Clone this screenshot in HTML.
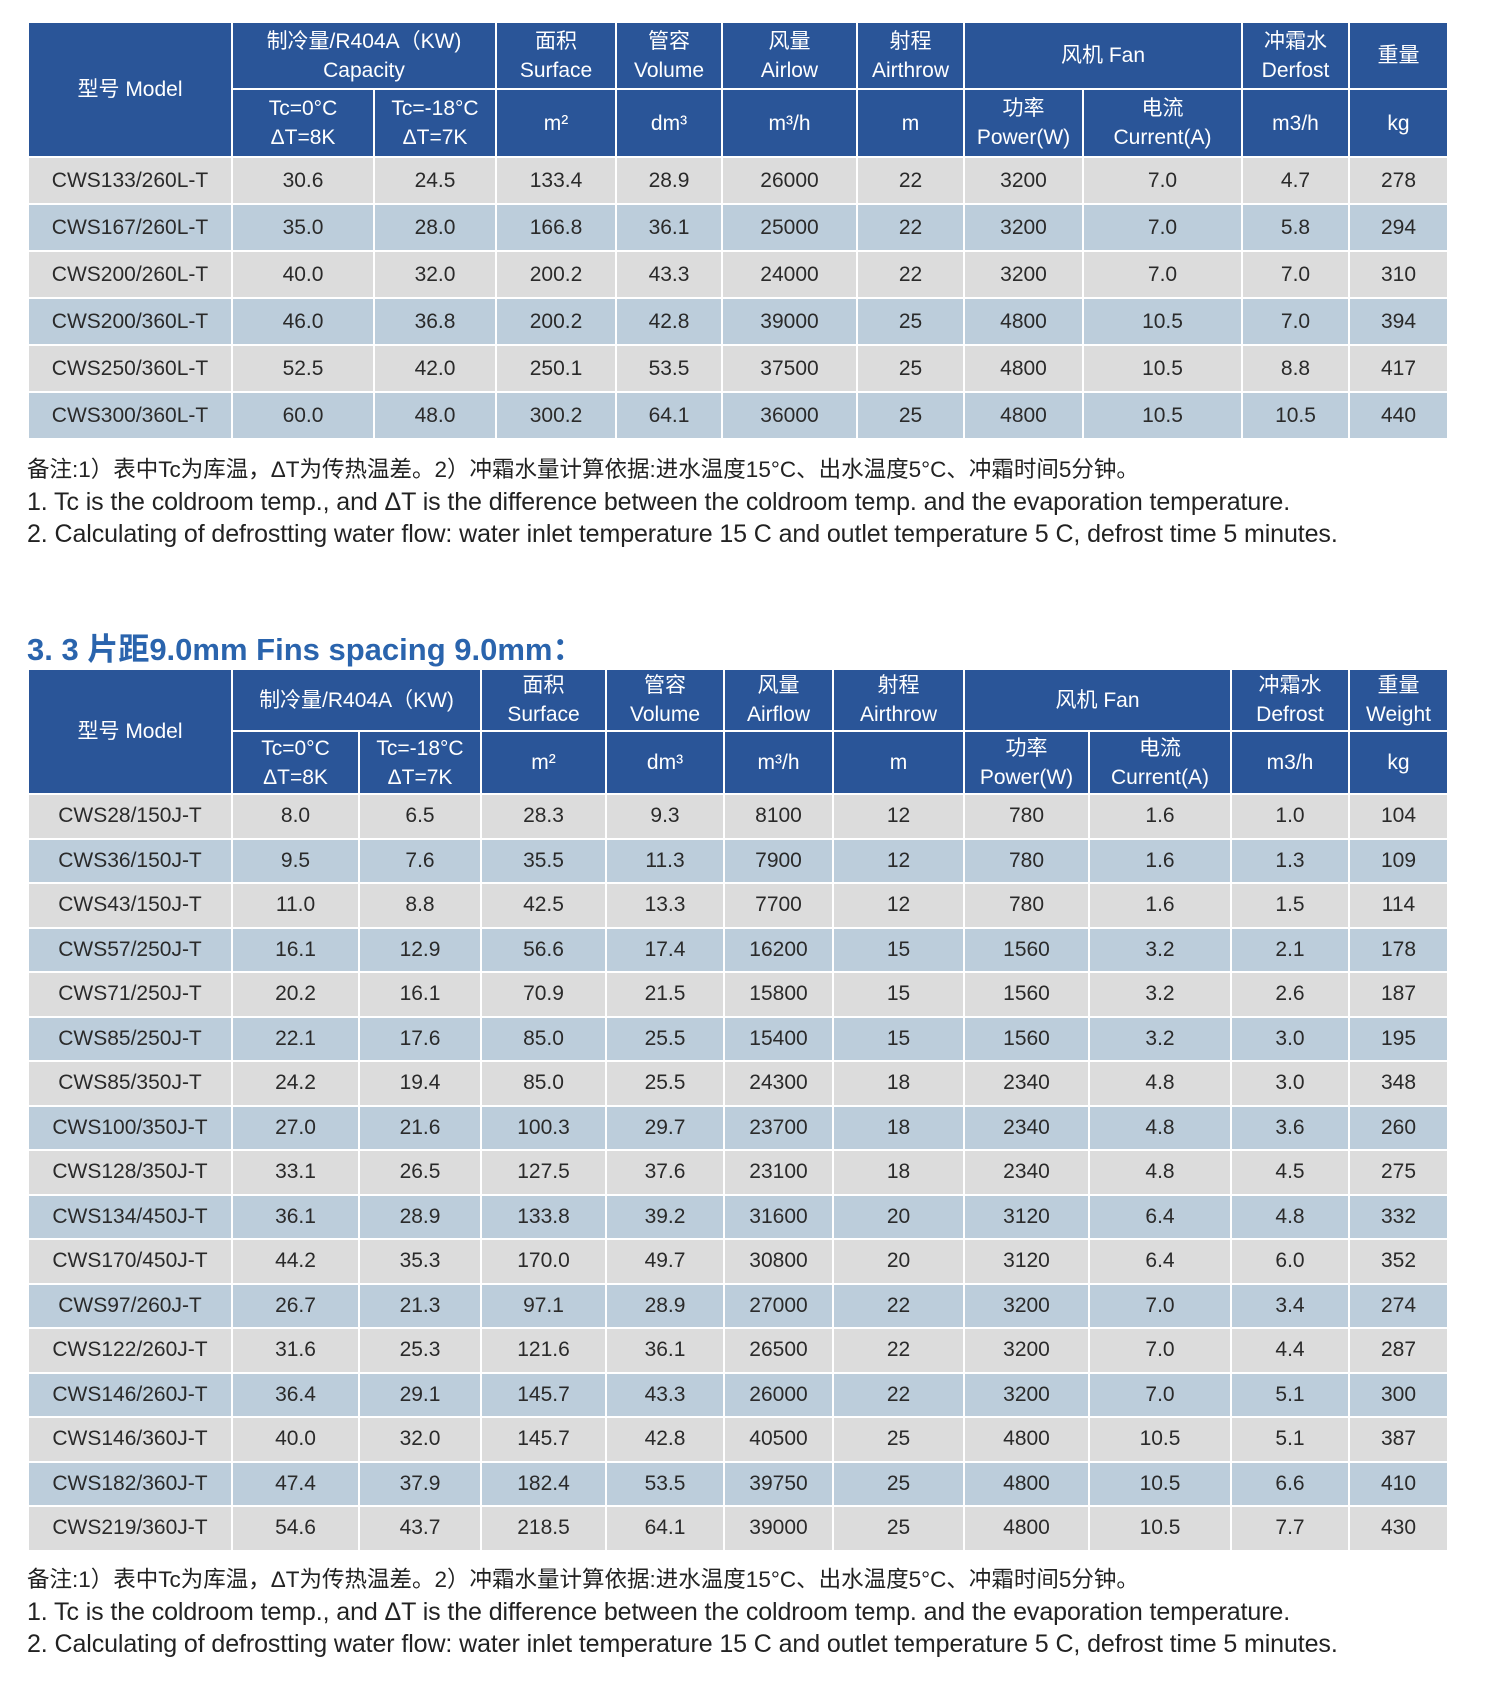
<!DOCTYPE html>
<html><head><meta charset="utf-8"><style>
body{margin:0;background:#fff;width:1490px;height:1687px;position:relative;overflow:hidden;font-family:"Liberation Sans","Noto Sans CJK SC",sans-serif;}
table{position:absolute;left:27px;border-collapse:collapse;table-layout:fixed;width:1420px;}
td{border:2px solid #fff;text-align:center;padding:0;font-size:21px;color:#2a2a2a;line-height:20px;overflow:hidden;}
th{border:2px solid #fff;background:#2a5598;color:#fff;font-weight:normal;font-size:21px;line-height:29px;padding:0;overflow:hidden;}
tr.g td{background:#dcdcdc;}
tr.b td{background:#bccddb;}
.t2 tr.g, .t2 tr.b{height:44.5px;}
.note{position:absolute;left:27px;font-size:25px;color:#222;white-space:nowrap;letter-spacing:-0.1px;line-height:30px;}
.cn{font-size:22.5px;letter-spacing:0px;}
.title{position:absolute;left:27px;top:624px;font-size:31px;color:#2a64ad;font-weight:bold;}
</style></head><body>
<table style="top:21px">
<colgroup><col style="width:204px"><col style="width:142px"><col style="width:122px"><col style="width:120px"><col style="width:106px"><col style="width:135px"><col style="width:107px"><col style="width:119px"><col style="width:159px"><col style="width:107px"><col style="width:99px"></colgroup>
<tr style="height:67px"><th rowspan="2">型号 Model</th><th colspan="2">制冷量/R404A（KW)<br>Capacity</th><th>面积<br>Surface</th><th>管容<br>Volume</th><th>风量<br>Airlow</th><th>射程<br>Airthrow</th><th colspan="2">风机 Fan</th><th>冲霜水<br>Derfost</th><th>重量</th></tr>
<tr style="height:68px"><th>Tc=0°C<br>ΔT=8K</th><th>Tc=-18°C<br>ΔT=7K</th><th>m²</th><th>dm³</th><th>m³/h</th><th>m</th><th>功率<br>Power(W)</th><th>电流<br>Current(A)</th><th>m3/h</th><th>kg</th></tr>
<tr class="g" style="height:47px"><td>CWS133/260L-T</td><td>30.6</td><td>24.5</td><td>133.4</td><td>28.9</td><td>26000</td><td>22</td><td>3200</td><td>7.0</td><td>4.7</td><td>278</td></tr>
<tr class="b" style="height:47px"><td>CWS167/260L-T</td><td>35.0</td><td>28.0</td><td>166.8</td><td>36.1</td><td>25000</td><td>22</td><td>3200</td><td>7.0</td><td>5.8</td><td>294</td></tr>
<tr class="g" style="height:47px"><td>CWS200/260L-T</td><td>40.0</td><td>32.0</td><td>200.2</td><td>43.3</td><td>24000</td><td>22</td><td>3200</td><td>7.0</td><td>7.0</td><td>310</td></tr>
<tr class="b" style="height:47px"><td>CWS200/360L-T</td><td>46.0</td><td>36.8</td><td>200.2</td><td>42.8</td><td>39000</td><td>25</td><td>4800</td><td>10.5</td><td>7.0</td><td>394</td></tr>
<tr class="g" style="height:47px"><td>CWS250/360L-T</td><td>52.5</td><td>42.0</td><td>250.1</td><td>53.5</td><td>37500</td><td>25</td><td>4800</td><td>10.5</td><td>8.8</td><td>417</td></tr>
<tr class="b" style="height:47px"><td>CWS300/360L-T</td><td>60.0</td><td>48.0</td><td>300.2</td><td>64.1</td><td>36000</td><td>25</td><td>4800</td><td>10.5</td><td>10.5</td><td>440</td></tr>
</table>
<div class="note cn" style="top:455px">备注:1）表中Tc为库温，ΔT为传热温差。2）冲霜水量计算依据:进水温度15°C、出水温度5°C、冲霜时间5分钟。</div>
<div class="note" style="top:487px">1. Tc is the coldroom temp., and ΔT is the difference between the coldroom temp. and the evaporation temperature.</div>
<div class="note" style="top:519px">2. Calculating of defrostting water flow: water inlet temperature 15 C and outlet temperature 5 C, defrost time 5 minutes.</div>
<div class="title">3. 3 片距9.0mm Fins spacing 9.0mm：</div>
<table class="t2" style="top:668px">
<colgroup><col style="width:204px"><col style="width:127px"><col style="width:122px"><col style="width:125px"><col style="width:118px"><col style="width:109px"><col style="width:131px"><col style="width:125px"><col style="width:142px"><col style="width:118px"><col style="width:99px"></colgroup>
<tr style="height:62px"><th rowspan="2">型号 Model</th><th colspan="2">制冷量/R404A（KW)</th><th>面积<br>Surface</th><th>管容<br>Volume</th><th>风量<br>Airflow</th><th>射程<br>Airthrow</th><th colspan="2">风机 Fan</th><th>冲霜水<br>Defrost</th><th>重量<br>Weight</th></tr>
<tr style="height:63px"><th>Tc=0°C<br>ΔT=8K</th><th>Tc=-18°C<br>ΔT=7K</th><th>m²</th><th>dm³</th><th>m³/h</th><th>m</th><th>功率<br>Power(W)</th><th>电流<br>Current(A)</th><th>m3/h</th><th>kg</th></tr>
<tr class="g"><td>CWS28/150J-T</td><td>8.0</td><td>6.5</td><td>28.3</td><td>9.3</td><td>8100</td><td>12</td><td>780</td><td>1.6</td><td>1.0</td><td>104</td></tr>
<tr class="b"><td>CWS36/150J-T</td><td>9.5</td><td>7.6</td><td>35.5</td><td>11.3</td><td>7900</td><td>12</td><td>780</td><td>1.6</td><td>1.3</td><td>109</td></tr>
<tr class="g"><td>CWS43/150J-T</td><td>11.0</td><td>8.8</td><td>42.5</td><td>13.3</td><td>7700</td><td>12</td><td>780</td><td>1.6</td><td>1.5</td><td>114</td></tr>
<tr class="b"><td>CWS57/250J-T</td><td>16.1</td><td>12.9</td><td>56.6</td><td>17.4</td><td>16200</td><td>15</td><td>1560</td><td>3.2</td><td>2.1</td><td>178</td></tr>
<tr class="g"><td>CWS71/250J-T</td><td>20.2</td><td>16.1</td><td>70.9</td><td>21.5</td><td>15800</td><td>15</td><td>1560</td><td>3.2</td><td>2.6</td><td>187</td></tr>
<tr class="b"><td>CWS85/250J-T</td><td>22.1</td><td>17.6</td><td>85.0</td><td>25.5</td><td>15400</td><td>15</td><td>1560</td><td>3.2</td><td>3.0</td><td>195</td></tr>
<tr class="g"><td>CWS85/350J-T</td><td>24.2</td><td>19.4</td><td>85.0</td><td>25.5</td><td>24300</td><td>18</td><td>2340</td><td>4.8</td><td>3.0</td><td>348</td></tr>
<tr class="b"><td>CWS100/350J-T</td><td>27.0</td><td>21.6</td><td>100.3</td><td>29.7</td><td>23700</td><td>18</td><td>2340</td><td>4.8</td><td>3.6</td><td>260</td></tr>
<tr class="g"><td>CWS128/350J-T</td><td>33.1</td><td>26.5</td><td>127.5</td><td>37.6</td><td>23100</td><td>18</td><td>2340</td><td>4.8</td><td>4.5</td><td>275</td></tr>
<tr class="b"><td>CWS134/450J-T</td><td>36.1</td><td>28.9</td><td>133.8</td><td>39.2</td><td>31600</td><td>20</td><td>3120</td><td>6.4</td><td>4.8</td><td>332</td></tr>
<tr class="g"><td>CWS170/450J-T</td><td>44.2</td><td>35.3</td><td>170.0</td><td>49.7</td><td>30800</td><td>20</td><td>3120</td><td>6.4</td><td>6.0</td><td>352</td></tr>
<tr class="b"><td>CWS97/260J-T</td><td>26.7</td><td>21.3</td><td>97.1</td><td>28.9</td><td>27000</td><td>22</td><td>3200</td><td>7.0</td><td>3.4</td><td>274</td></tr>
<tr class="g"><td>CWS122/260J-T</td><td>31.6</td><td>25.3</td><td>121.6</td><td>36.1</td><td>26500</td><td>22</td><td>3200</td><td>7.0</td><td>4.4</td><td>287</td></tr>
<tr class="b"><td>CWS146/260J-T</td><td>36.4</td><td>29.1</td><td>145.7</td><td>43.3</td><td>26000</td><td>22</td><td>3200</td><td>7.0</td><td>5.1</td><td>300</td></tr>
<tr class="g"><td>CWS146/360J-T</td><td>40.0</td><td>32.0</td><td>145.7</td><td>42.8</td><td>40500</td><td>25</td><td>4800</td><td>10.5</td><td>5.1</td><td>387</td></tr>
<tr class="b"><td>CWS182/360J-T</td><td>47.4</td><td>37.9</td><td>182.4</td><td>53.5</td><td>39750</td><td>25</td><td>4800</td><td>10.5</td><td>6.6</td><td>410</td></tr>
<tr class="g"><td>CWS219/360J-T</td><td>54.6</td><td>43.7</td><td>218.5</td><td>64.1</td><td>39000</td><td>25</td><td>4800</td><td>10.5</td><td>7.7</td><td>430</td></tr>
</table>
<div class="note cn" style="top:1565px">备注:1）表中Tc为库温，ΔT为传热温差。2）冲霜水量计算依据:进水温度15°C、出水温度5°C、冲霜时间5分钟。</div>
<div class="note" style="top:1597px">1. Tc is the coldroom temp., and ΔT is the difference between the coldroom temp. and the evaporation temperature.</div>
<div class="note" style="top:1629px">2. Calculating of defrostting water flow: water inlet temperature 15 C and outlet temperature 5 C, defrost time 5 minutes.</div>
</body></html>
